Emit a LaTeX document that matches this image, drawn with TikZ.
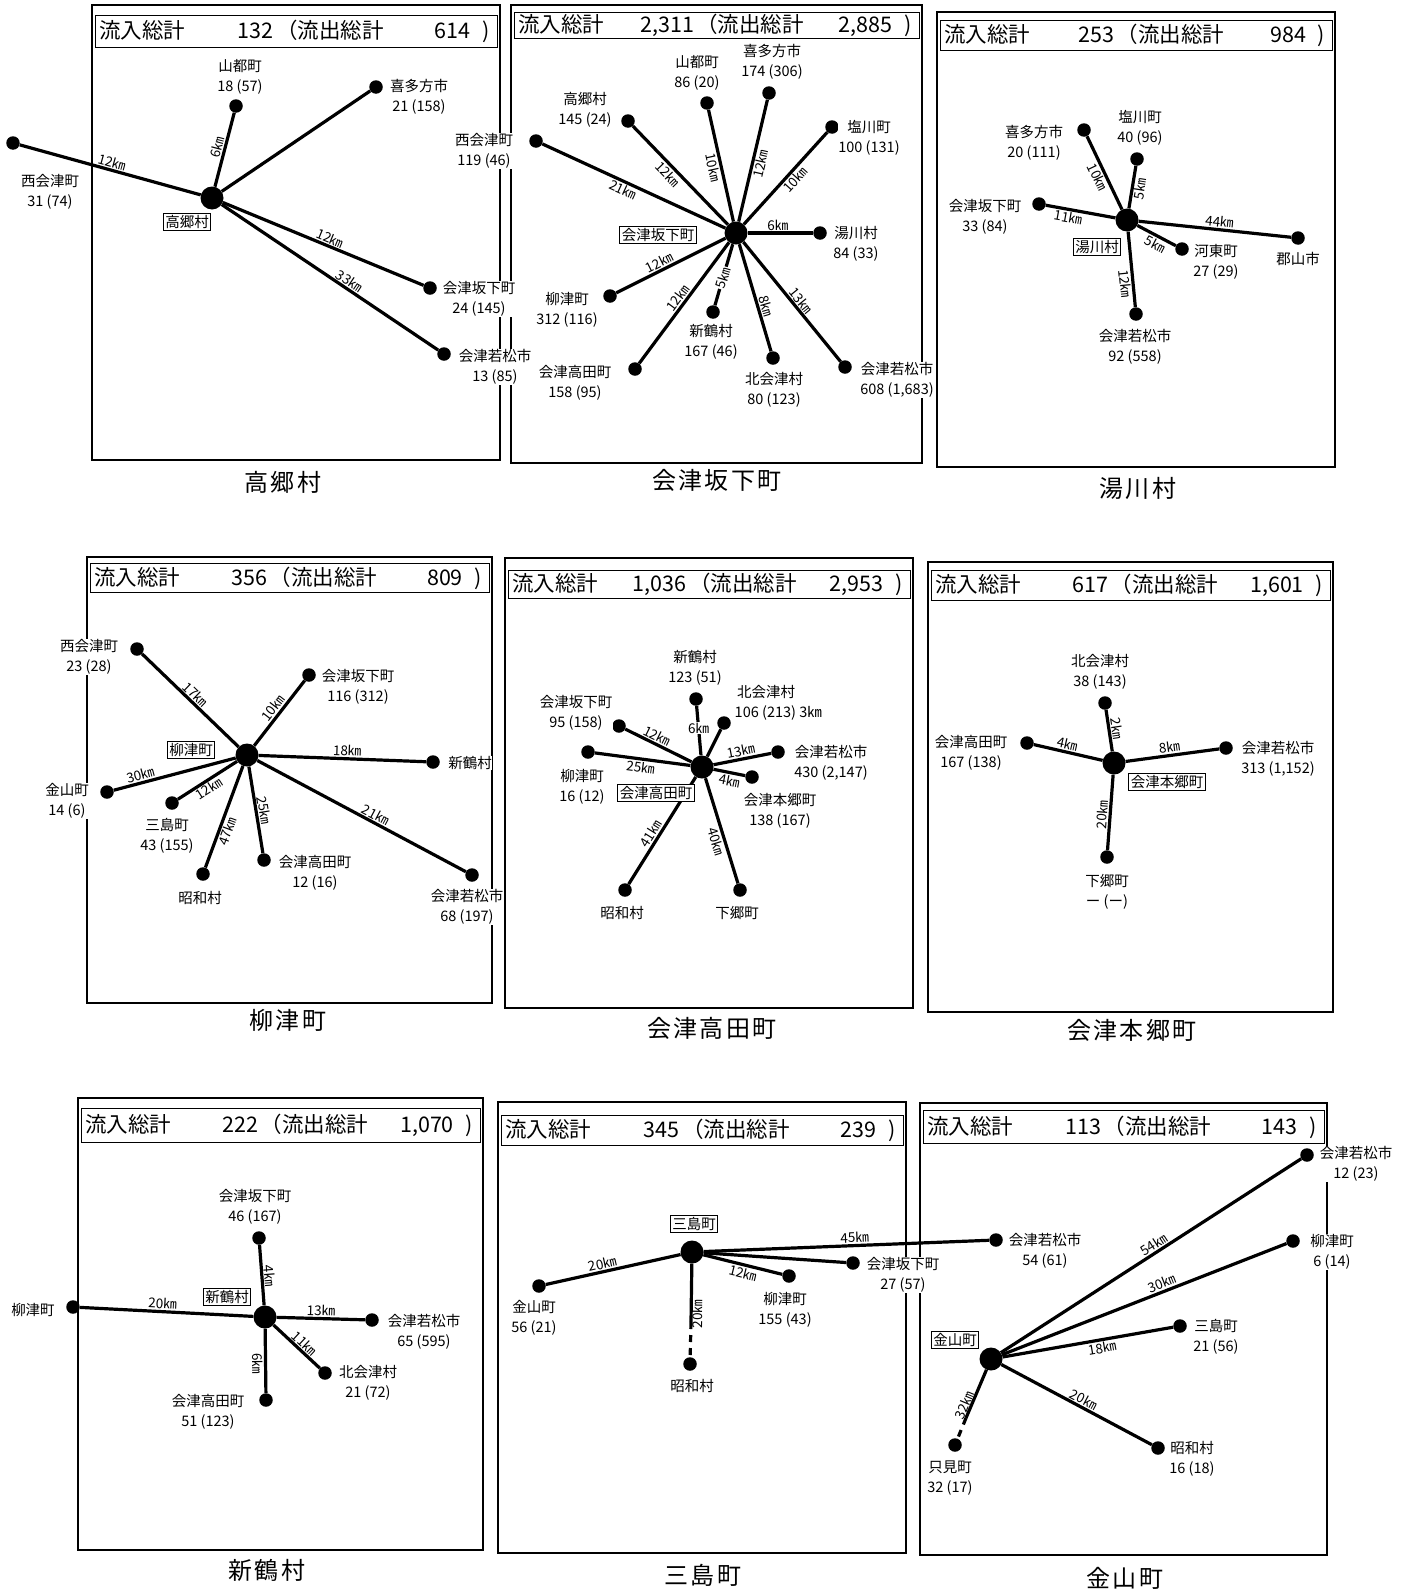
\documentclass[tikz,border=0pt]{standalone}
\usepackage{fontspec}
\setmainfont{Noto Sans CJK JP}
\newfontfamily\ttlfont[LetterSpace=10]{Noto Sans CJK JP}
\begin{document}
\begin{tikzpicture}[x=1pt,y=-1pt]
\tikzset{
 frame/.style={draw, line width=1.4pt},
 hbox/.style={draw, line width=0.9pt},
 htext/.style={font=\fontsize{21.5}{21.5}\selectfont, inner sep=0pt},
 ttl/.style={font=\ttlfont\fontsize{24}{24}\selectfont, inner sep=0pt},
 dot/.style={circle, fill, inner sep=0pt, minimum size=13.5pt},
 hub/.style={circle, fill, inner sep=0pt, minimum size=23pt},
 edge/.style={line width=3.2pt},
 dedge/.style={line width=3.2pt, dash pattern=on 7pt off 6pt},
 lbl/.style={font=\fontsize{14.5}{20}\selectfont, align=center, inner sep=0.5pt, fill=white},
 km/.style={font=\fontsize{13.5}{13.5}\selectfont, sloped, inner sep=1.2pt},
 kmw/.style={font=\fontsize{13.5}{13.5}\selectfont, fill=white, inner sep=1pt},
 cbox/.style={draw, line width=0.8pt, font=\fontsize{14.5}{14.5}\selectfont, inner sep=2pt, fill=white},
}
\newcommand\hdr[7]{%
  \draw[hbox] (#1,#2) rectangle (#3,#4);
  \pgfmathsetmacro\hy{(#2+#4)/2+7.5}%
  \pgfmathsetmacro\hxa{#1+0.445*(#3-#1)}%
  \pgfmathsetmacro\hxb{#1+0.45*(#3-#1)}%
  \pgfmathsetmacro\hxc{#1+0.935*(#3-#1)}%
  \node[htext, anchor=base west] (#7h1) at (#1+4,\hy) {流入総計};
  \node[htext, anchor=base east] (#7h2) at (\hxa,\hy) {#5};
  \node[htext, anchor=base west] (#7h3) at (\hxb,\hy) {（流出総計};
  \node[htext, anchor=base east] (#7h4) at (\hxc,\hy) {#6};
  \node[htext, anchor=base east] (#7h5) at (#3-7,\hy) {)};
}
\useasboundingbox (0,0) rectangle (1412,1590);
\fill[white] (0,0) rectangle (1412,1590);

% ================= frames
\draw[frame] (92,5) rectangle (500,460);
\draw[frame] (511,5) rectangle (922,463);
\draw[frame] (937,12) rectangle (1335,467);
\draw[frame] (87,557) rectangle (492,1003);
\draw[frame] (505,558) rectangle (913,1008);
\draw[frame] (928,562) rectangle (1333,1012);
\draw[frame] (78,1098) rectangle (483,1550);
\draw[frame] (498,1102) rectangle (906,1553);
\draw[frame] (920,1103) rectangle (1327,1555);

% ================= Panel 1: 高郷村
\hdr{95}{15}{497}{47}{132}{614}{a}
\node[ttl] (at) at (283,482) {高郷村};
\node[hub] (ac) at (212,198) {};
\node[dot] (a1) at (236,106) {}; \node[dot] (a2) at (376,87) {};
\node[dot] (a3) at (13,143) {};  \node[dot] (a4) at (430,288) {};
\node[dot] (a5) at (444,354) {};
\draw[edge] (ac) -- node[km, pos=.51, above] (a1k) {6㎞} (a1);
\draw[edge] (ac) -- (a2);
\draw[edge] (ac) -- node[km, pos=.5, above] (a3k) {12㎞} (a3);
\draw[edge] (ac) -- node[km, pos=.52, above] (a4k) {12㎞} (a4);
\draw[edge] (ac) -- node[km, pos=.57, above] (a5k) {33㎞} (a5);
\node[cbox] (acb) at (187,222) {高郷村};
\node[lbl] (a1t) at (240,77) {山都町\\18 (57)};
\node[lbl] (a2t) at (419,97) {喜多方市\\21 (158)};
\node[lbl] (a3t) at (50,192) {西会津町\\31 (74)};
\node[lbl] (a4t) at (479,299) {会津坂下町\\24 (145)};
\node[lbl] (a5t) at (495,367) {会津若松市\\13 (85)};

% ================= Panel 2: 会津坂下町
\hdr{514}{12}{919}{38}{2,311}{2,885}{b}
\node[ttl] (bt) at (717,480) {会津坂下町};
\node[hub] (bc) at (736,233) {};
\node[dot] (b1) at (707,103) {}; \node[dot] (b2) at (769,93) {};
\node[dot] (b3) at (628,121) {}; \node[dot] (b4) at (536,141) {};
\node[dot] (b5) at (832,127) {}; \node[dot] (b6) at (820,233) {};
\node[dot] (b7) at (610,296) {}; \node[dot] (b8) at (635,369) {};
\node[dot] (b9) at (713,312) {}; \node[dot] (b10) at (773,358) {};
\node[dot] (b11) at (845,367) {};
\draw[edge] (bc) -- node[km, pos=.5, below] (b1k) {10㎞} (b1);
\draw[edge] (bc) -- node[km, pos=.49, below] (b2k) {12㎞} (b2);
\draw[edge] (bc) -- node[km, pos=.57, below] (b3k) {12㎞} (b3);
\draw[edge] (bc) -- node[km, pos=.54, below] (b4k) {21㎞} (b4);
\draw[edge] (bc) -- node[km, pos=.54, below] (b5k) {10㎞} (b5);
\draw[edge] (bc) -- node[km, pos=.46, above] (b6k) {6㎞} (b6);
\draw[edge] (bc) -- node[km, pos=.575, above] (b7k) {12㎞} (b7);
\draw[edge] (bc) -- node[km, pos=.5, above] (b8k) {12㎞} (b8);
\draw[edge] (bc) -- node[km, pos=.55, fill=white, inner sep=1pt] (b9k) {5㎞} (b9);
\draw[edge] (bc) -- node[km, pos=.6, above] (b10k) {8㎞} (b10);
\draw[edge] (bc) -- node[km, pos=.53, above] (b11k) {13㎞} (b11);
\node[cbox] (bcb) at (658,235) {会津坂下町};
\node[lbl] (b1t) at (697,73) {山都町\\86 (20)};
\node[lbl] (b2t) at (772,62) {喜多方市\\174 (306)};
\node[lbl] (b3t) at (585,110) {高郷村\\145 (24)};
\node[lbl] (b4t) at (484,151) {西会津町\\119 (46)};
\node[lbl] (b5t) at (869,138) {塩川町\\100 (131)};
\node[lbl] (b6t) at (856,244) {湯川村\\84 (33)};
\node[lbl] (b7t) at (567,310) {柳津町\\312 (116)};
\node[lbl] (b8t) at (575,383) {会津高田町\\158 (95)};
\node[lbl] (b9t) at (711,342) {新鶴村\\167 (46)};
\node[lbl] (b10t) at (774,390) {北会津村\\80 (123)};
\node[lbl] (b11t) at (897,380) {会津若松市\\608 (1,683)};

% ================= Panel 3: 湯川村
\hdr{940}{20}{1332}{50}{253}{984}{c}
\node[ttl] (ct) at (1138,488) {湯川村};
\node[hub] (cc) at (1127,220) {};
\node[dot] (c1) at (1084,130) {}; \node[dot] (c2) at (1137,159) {};
\node[dot] (c3) at (1039,204) {}; \node[dot] (c4) at (1298,238) {};
\node[dot] (c5) at (1182,249) {}; \node[dot] (c6) at (1136,314) {};
\draw[edge] (cc) -- node[km, pos=.49, below] (c1k) {10㎞} (c1);
\draw[edge] (cc) -- node[km, pos=.49, below] (c2k) {5㎞} (c2);
\draw[edge] (cc) -- node[km, pos=.66, below] (c3k) {11㎞} (c3);
\draw[edge] (cc) -- node[km, pos=.525, above] (c4k) {44㎞} (c4);
\draw[edge] (cc) -- node[km, pos=.57, below] (c5k) {5㎞} (c5);
\draw[edge] (cc) -- node[km, pos=.68, below] (c6k) {12㎞} (c6);
\node[cbox] (ccb) at (1097,247) {湯川村};
\node[lbl] (c1t) at (1034,143) {喜多方市\\20 (111)};
\node[lbl] (c2t) at (1140,128) {塩川町\\40 (96)};
\node[lbl] (c3t) at (985,217) {会津坂下町\\33 (84)};
\node[lbl] (c4t) at (1298,259) {郡山市};
\node[lbl] (c5t) at (1216,262) {河東町\\27 (29)};
\node[lbl] (c6t) at (1135,347) {会津若松市\\92 (558)};

% ================= Panel 4: 柳津町
\hdr{90}{563}{489}{592}{356}{809}{d}
\node[ttl] (dt) at (288,1020) {柳津町};
\node[hub] (dc) at (247,755) {};
\node[dot] (d1) at (137,649) {}; \node[dot] (d2) at (309,675) {};
\node[dot] (d3) at (433,762) {}; \node[dot] (d4) at (107,792) {};
\node[dot] (d5) at (172,803) {}; \node[dot] (d6) at (203,874) {};
\node[dot] (d7) at (264,860) {}; \node[dot] (d8) at (472,875) {};
\draw[edge] (dc) -- node[km, pos=.5, above] (d1k) {17㎞} (d1);
\draw[edge] (dc) -- node[km, pos=.5, above] (d2k) {10㎞} (d2);
\draw[edge] (dc) -- node[km, pos=.527, above] (d3k) {18㎞} (d3);
\draw[edge] (dc) -- node[km, pos=.76, above] (d4k) {30㎞} (d4);
\draw[edge] (dc) -- node[km, pos=.55, below] (d5k) {12㎞} (d5);
\draw[edge] (dc) -- node[km, pos=.62, below] (d6k) {47㎞} (d6);
\draw[edge] (dc) -- node[km, pos=.52, above] (d7k) {25㎞} (d7);
\draw[edge] (dc) -- node[km, pos=.55, above] (d8k) {21㎞} (d8);
\node[cbox] (dcb) at (191,750) {柳津町};
\node[lbl] (d1t) at (89,657) {西会津町\\23 (28)};
\node[lbl] (d2t) at (358,687) {会津坂下町\\116 (312)};
\node[lbl] (d3t) at (470,763) {新鶴村};
\node[lbl] (d4t) at (67,801) {金山町\\14 (6)};
\node[lbl] (d5t) at (167,836) {三島町\\43 (155)};
\node[lbl] (d6t) at (200,898) {昭和村};
\node[lbl] (d7t) at (315,873) {会津高田町\\12 (16)};
\node[lbl] (d8t) at (467,907) {会津若松市\\68 (197)};

% ================= Panel 5: 会津高田町
\hdr{508}{570}{910}{598}{1,036}{2,953}{e}
\node[ttl] (et) at (712,1028) {会津高田町};
\node[hub] (ec) at (702,767) {};
\node[dot] (e1) at (696,699) {}; \node[dot] (e2) at (724,723) {};
\node[dot] (e3) at (619,726) {}; \node[dot] (e4) at (588,752) {};
\node[dot] (e5) at (778,752) {}; \node[dot] (e6) at (752,777) {};
\node[dot] (e7) at (625,890) {}; \node[dot] (e8) at (740,890) {};
\draw[edge] (ec) -- node[kmw, pos=.55] (e1k) {6㎞} (e1);
\draw[edge] (ec) -- (e2);
\draw[edge] (ec) -- node[km, pos=.57, above] (e3k) {12㎞} (e3);
\draw[edge] (ec) -- node[km, pos=.51, below] (e4k) {25㎞} (e4);
\draw[edge] (ec) -- node[km, pos=.5, above] (e5k) {13㎞} (e5);
\draw[edge] (ec) -- node[km, pos=.55, below] (e6k) {4㎞} (e6);
\draw[edge] (ec) -- node[km, pos=.57, above] (e7k) {41㎞} (e7);
\draw[edge] (ec) -- node[km, pos=.58, below] (e8k) {40㎞} (e8);
\node[cbox] (ecb) at (656,793) {会津高田町};
\node[lbl] (e1t) at (695,668) {新鶴村\\123 (51)};
\node[lbl, align=left, anchor=west] (e2t) at (734,703) {\,北会津村\\106 (213) 3㎞};
\node[lbl] (e3t) at (576,713) {会津坂下町\\95 (158)};
\node[lbl] (e4t) at (582,787) {柳津町\\16 (12)};
\node[lbl] (e5t) at (831,763) {会津若松市\\430 (2,147)};
\node[lbl] (e6t) at (780,811) {会津本郷町\\138 (167)};
\node[lbl] (e7t) at (622,913) {昭和村};
\node[lbl] (e8t) at (737,913) {下郷町};

% ================= Panel 6: 会津本郷町
\hdr{931}{570}{1330}{600}{617}{1,601}{f}
\node[ttl] (ft) at (1132,1030) {会津本郷町};
\node[hub] (fc) at (1114,763) {};
\node[dot] (f1) at (1105,703) {}; \node[dot] (f2) at (1027,743) {};
\node[dot] (f3) at (1226,748) {}; \node[dot] (f4) at (1107,857) {};
\draw[edge] (fc) -- node[km, pos=.53, above] (f1k) {2㎞} (f1);
\draw[edge] (fc) -- node[km, pos=.53, above] (f2k) {4㎞} (f2);
\draw[edge] (fc) -- node[km, pos=.48, above] (f3k) {8㎞} (f3);
\draw[edge] (fc) -- node[km, pos=.54, above] (f4k) {20㎞} (f4);
\node[cbox] (fcb) at (1167,782) {会津本郷町};
\node[lbl] (f1t) at (1100,672) {北会津村\\38 (143)};
\node[lbl] (f2t) at (971,753) {会津高田町\\167 (138)};
\node[lbl] (f3t) at (1278,759) {会津若松市\\313 (1,152)};
\node[lbl] (f4t) at (1107,892) {下郷町\\ー (ー)};

% ================= Panel 7: 新鶴村
\hdr{81}{1108}{480}{1142}{222}{1,070}{g}
\node[ttl] (gt) at (267,1570) {新鶴村};
\node[hub] (gc) at (265,1317) {};
\node[dot] (g1) at (259,1238) {}; \node[dot] (g2) at (73,1307) {};
\node[dot] (g3) at (372,1320) {}; \node[dot] (g4) at (325,1373) {};
\node[dot] (g5) at (266,1400) {};
\draw[edge] (gc) -- node[km, pos=.48, above] (g1k) {4㎞} (g1);
\draw[edge] (gc) -- node[km, pos=.525, above] (g2k) {20㎞} (g2);
\draw[edge] (gc) -- node[km, pos=.5, above] (g3k) {13㎞} (g3);
\draw[edge] (gc) -- node[km, pos=.55, above] (g4k) {11㎞} (g4);
\draw[edge] (gc) -- node[km, pos=.54, below] (g5k) {6㎞} (g5);
\node[cbox] (gcb) at (227,1297) {新鶴村};
\node[lbl] (g1t) at (255,1207) {会津坂下町\\46 (167)};
\node[lbl] (g2t) at (33,1310) {柳津町};
\node[lbl] (g3t) at (424,1332) {会津若松市\\65 (595)};
\node[lbl] (g4t) at (368,1383) {北会津村\\21 (72)};
\node[lbl] (g5t) at (208,1412) {会津高田町\\51 (123)};

% ================= Panel 8: 三島町
\hdr{501}{1115}{903}{1145}{345}{239}{h}
\node[ttl] (ht) at (703,1575) {三島町};
\node[hub] (hc) at (692,1252) {};
\node[dot] (h1) at (539,1286) {}; \node[dot] (h2) at (690,1364) {};
\node[dot] (h3) at (789,1276) {}; \node[dot] (h4) at (853,1263) {};
\node[dot] (h5) at (996,1240) {};
\coordinate (h2m) at (691,1322);
\draw[edge] (hc) -- node[km, pos=.565, above] (h1k) {20㎞} (h1);
\draw[edge] (hc) -- (h2m);
\draw[dedge] (h2m) -- (h2);
\path (hc) -- node[km, pos=.536, below] (h2k) {20㎞} (h2);
\draw[edge] (hc) -- node[km, pos=.53, below] (h3k) {12㎞} (h3);
\draw[edge] (hc) -- (h4);
\draw[edge] (hc) -- node[km, pos=.53, above] (h5k) {45㎞} (h5);
\node[cbox] (hcb) at (694,1224) {三島町};
\node[lbl] (h1t) at (534,1318) {金山町\\56 (21)};
\node[lbl] (h2t) at (692,1386) {昭和村};
\node[lbl] (h3t) at (785,1310) {柳津町\\155 (43)};
\node[lbl] (h4t) at (903,1275) {会津坂下町\\27 (57)};
\node[lbl] (h5t) at (1045,1251) {会津若松市\\54 (61)};

% ================= Panel 9: 金山町
\hdr{923}{1110}{1324}{1143}{113}{143}{i}
\node[ttl] (it) at (1125,1578) {金山町};
\node[hub] (ic) at (991,1359) {};
\node[dot] (i1) at (1307,1155) {}; \node[dot] (i2) at (1293,1241) {};
\node[dot] (i3) at (1180,1326) {}; \node[dot] (i4) at (1158,1448) {};
\node[dot] (i5) at (955,1445) {};
\coordinate (i5m) at (966,1418);
\draw[edge] (ic) -- node[km, pos=.524, above] (i1k) {54㎞} (i1);
\draw[edge] (ic) -- node[km, pos=.574, above] (i2k) {30㎞} (i2);
\draw[edge] (ic) -- node[km, pos=.575, below] (i3k) {18㎞} (i3);
\draw[edge] (ic) -- node[km, pos=.523, above] (i4k) {20㎞} (i4);
\draw[edge] (ic) -- (i5m);
\draw[dedge] (i5m) -- (i5);
\path (ic) -- node[km, pos=.55, above] (i5k) {32㎞} (i5);
\node[cbox] (icb) at (955,1340) {金山町};
\node[lbl] (i1t) at (1356,1164) {会津若松市\\12 (23)};
\node[lbl] (i2t) at (1332,1252) {柳津町\\6 (14)};
\node[lbl] (i3t) at (1216,1337) {三島町\\21 (56)};
\node[lbl] (i4t) at (1192,1459) {昭和村\\16 (18)};
\node[lbl] (i5t) at (950,1478) {只見町\\32 (17)};
\end{tikzpicture}
\end{document}
